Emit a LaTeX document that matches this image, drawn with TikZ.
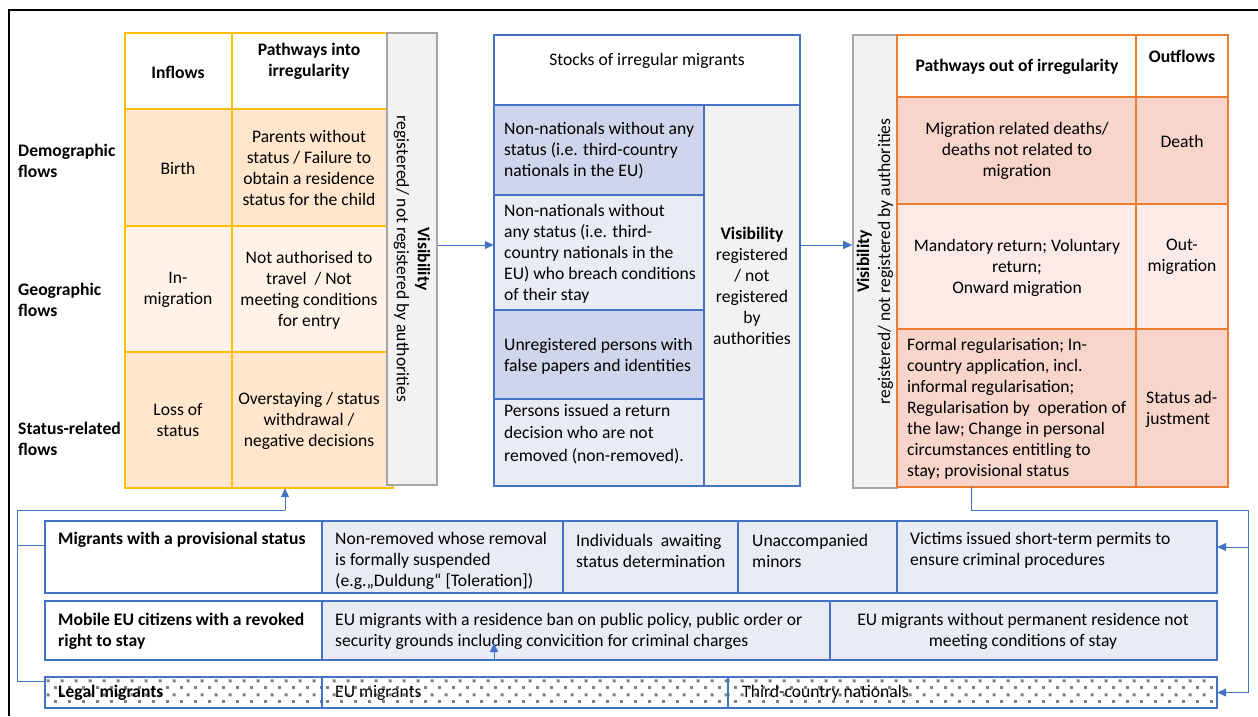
\documentclass[tikz,border=0pt]{standalone}
\usepackage{fontspec}
\setmainfont{Carlito}
\usepackage{xcolor}
\usepackage{tikz}
\usetikzlibrary{arrows.meta}
\usetikzlibrary{patterns}

\definecolor{yline}{HTML}{FFC000}
\definecolor{ylight}{HTML}{FFE6CC}
\definecolor{ypale}{HTML}{FFF3E7}
\definecolor{bline}{HTML}{4472C4}
\definecolor{bdark}{HTML}{CFD5EA}
\definecolor{blight}{HTML}{E9EBF5}
\definecolor{oline}{HTML}{ED7D31}
\definecolor{olight}{HTML}{F8D5CA}
\definecolor{opale}{HTML}{FBEAE7}
\definecolor{vline}{HTML}{A6A6A6}
\definecolor{vfill}{HTML}{F2F2F2}
\definecolor{dotgrey}{HTML}{7F7F7F}

\newcommand{\txtsize}{\fontsize{17.6}{21}\selectfont}

\pgfdeclarepatternformonly{sqdots}{\pgfpointorigin}{\pgfpoint{13.6pt}{13.6pt}}{\pgfpoint{13.6pt}{13.6pt}}{%
  \pgfpathrectangle{\pgfpoint{0pt}{0pt}}{\pgfpoint{3pt}{3pt}}%
  \pgfpathrectangle{\pgfpoint{6.8pt}{6.8pt}}{\pgfpoint{3pt}{3pt}}%
  \pgfusepath{fill}}

\tikzset{
  ycell/.style={draw=yline, line width=1.5pt},
  bcell/.style={draw=bline, line width=1.5pt},
  ocell/.style={draw=oline, line width=1.8pt},
  visbox/.style={draw=vline, fill=vfill, line width=1.6pt, inner sep=0pt},
  frame/.style={inner sep=0pt},
  txt/.style={inner sep=0pt, align=center},
  ltxt/.style={inner sep=0pt, align=left, anchor=west},
  bold/.style={font=\txtsize\bfseries},
  wire/.style={draw=bline, line width=0.8pt},
  arr/.style={draw=bline, line width=0.8pt, -{Triangle[length=9pt,width=8pt]}}
}

\begin{document}
\begin{tikzpicture}[x=1pt, y=-1pt, font=\txtsize]
       \useasboundingbox (0,0) rectangle (1258,716);
        %FRAME
       \draw[line width=2.5pt] (9,716) -- (9,10) -- (1258,10);

        %INFLOWS TABLE
       \filldraw[ycell, fill=white] (125,33) rectangle (232,109);
       \filldraw[ycell, fill=white] (232,33) rectangle (387,109);
       \filldraw[ycell, fill=ylight] (125,109) rectangle (232,226);
       \filldraw[ycell, fill=ylight] (232,109) rectangle (387,226);
       \filldraw[ycell, fill=ypale] (125,226) rectangle (232,352);
       \filldraw[ycell, fill=ypale] (232,226) rectangle (387,352);
       \filldraw[ycell, fill=ylight] (125,352) rectangle (232,488);
       \filldraw[ycell, fill=ylight] (232,352) rectangle (393,488);
       \node[frame, minimum width=262pt, minimum height=455pt] (intable) at (256,260.5) {};
       \node[visbox, minimum width=50pt, minimum height=452pt] (visL) at (412,259) {};
       \node[txt, rotate=-90] (visLtxt) at (visL.center) {\textbf{Visibility}\\registered/ not registered by authorities};

       \node[ltxt, bold] (demo) at (18,161) {Demographic\\flows};
       \node[ltxt, bold] (geo) at (18,300) {Geographic\\flows};
       \node[ltxt, bold] (statrel) at (18,439) {Status-related\\flows};
       \node[txt, bold] (inflows) at (178,72) {Inflows};
       \node[txt, bold] (pathin) at (309,61.5) {Pathways into\\irregularity};
       \node[txt] (birth) at (178,168) {Birth};
       \node[txt] (parents) at (309,168) {Parents without\\status / Failure to\\obtain a residence\\status for the child};
       \node[txt] (inmig) at (178,290) {In-\\migration};
       \node[txt] (notauth) at (309,290) {Not authorised to\\travel~ / Not\\meeting conditions\\for entry};
       \node[txt] (loss) at (178,420) {Loss of\\status};
       \node[txt] (overstay) at (309,421) {Overstaying / status\\withdrawal /\\negative decisions};

        %STOCKS TABLE
       \filldraw[bcell, fill=white] (494,35) rectangle (800,105);
       \filldraw[bcell, fill=bdark] (494,105) rectangle (704,195);
       \filldraw[bcell, fill=blight] (494,195) rectangle (704,310);
       \filldraw[bcell, fill=bdark] (494,310) rectangle (704,399);
       \filldraw[bcell, fill=blight] (494,399) rectangle (704,486);
       \filldraw[bcell, fill=vfill] (704,105) rectangle (800,486);
       \node[frame, minimum width=306pt, minimum height=451pt] (stocks) at (647,260.5) {};

       \node[txt] (stockhead) at (647,61) {Stocks of irregular migrants};
       \node[ltxt] (nostatus) at (504,151) {Non-nationals without any\\status (i.e. third-country\\nationals in the EU)};
       \node[ltxt] (breach) at (504,254) {Non-nationals without\\any status (i.e. third-\\country nationals in the\\EU) who breach conditions\\of their stay};
       \node[ltxt] (unreg) at (504,356) {Unregistered persons with\\false papers and identities};
       \node[ltxt] (nonremoved) at (504,434) {Persons issued a return\\[1.5pt]decision who are not\\[1.5pt]removed (non-removed).};
       \node[txt] (stockvis) at (752,285.5) {\textbf{Visibility}\\registered\\/ not\\registered\\by\\authorities};

        %OUTFLOWS TABLE
       \node[visbox, minimum width=44pt, minimum height=453pt] (visR) at (875,261.5) {};
       \node[txt, rotate=90] (visRtxt) at (visR.center) {\textbf{Visibility}\\registered/ not registered by authorities};
       \filldraw[ocell, fill=white] (897,35) rectangle (1136,97);
       \filldraw[ocell, fill=white] (1136,35) rectangle (1228,97);
       \filldraw[ocell, fill=olight] (897,97) rectangle (1136,204);
       \filldraw[ocell, fill=olight] (1136,97) rectangle (1228,204);
       \filldraw[ocell, fill=opale] (897,204) rectangle (1136,329);
       \filldraw[ocell, fill=opale] (1136,204) rectangle (1228,329);
       \filldraw[ocell, fill=olight] (897,329) rectangle (1136,487);
       \filldraw[ocell, fill=olight] (1136,329) rectangle (1228,487);
       \node[frame, minimum width=331pt, minimum height=452pt] (outtable) at (1062.5,261) {};

       \node[txt, bold] (pathout) at (1017,67) {Pathways out of irregularity};
       \node[txt, bold] (outflows) at (1182,56) {Outflows};
       \node[txt] (deaths) at (1017,151) {Migration related deaths/\\deaths not related to\\migration};
       \node[txt] (death) at (1182,141) {Death};
       \node[txt] (returns) at (1017,268) {Mandatory return; Voluntary\\return;\\Onward migration};
       \node[txt] (outmig) at (1182,257) {Out-\\migration};
       \node[ltxt] (regul) at (907,409) {Formal regularisation; In-\\country application, incl.\\informal regularisation;\\Regularisation by~ operation of\\the law; Change in personal\\circumstances entitling to\\stay; provisional status};
       \node[ltxt] (adjust) at (1146,409.5) {Status ad-\\justment};

        %PROVISIONAL STATUS ROW
       \filldraw[bcell, fill=white] (45,521) rectangle (322,593);
       \filldraw[bcell, fill=blight] (322,521) rectangle (563,593);
       \filldraw[bcell, fill=blight] (563,521) rectangle (738,593);
       \filldraw[bcell, fill=blight] (738,521) rectangle (897,593);
       \filldraw[bcell, fill=blight] (897,521) rectangle (1217,593);
       \node[frame, minimum width=1172pt, minimum height=72pt] (provrow) at (631,557) {};
       \node[ltxt, bold] (provis) at (58,540) {Migrants with a provisional status};
       \node[ltxt] (suspended) at (335,561) {Non-removed whose removal\\is formally suspended\\(e.g.„Duldung“ [Toleration])};
       \node[ltxt] (awaiting) at (576,550.5) {Individuals~ awaiting\\status determination};
       \node[ltxt] (minors) at (752,550.5) {Unaccompanied\\minors};
       \node[ltxt] (victims) at (910,550.5) {Victims issued short-term permits to\\ensure criminal procedures};

        %MOBILE EU ROW
       \filldraw[bcell, fill=white] (45,601) rectangle (322,660);
       \filldraw[bcell, fill=blight] (322,601) rectangle (830,660);
       \filldraw[bcell, fill=blight] (830,601) rectangle (1217,660);
       \node[frame, minimum width=1172pt, minimum height=59pt] (mobrow) at (631,630.5) {};
       \node[ltxt, bold] (mobile) at (58,631.5) {Mobile EU citizens with a revoked\\right to stay};
       \node[ltxt] (euban) at (335,631.5) {EU migrants with a residence ban on public policy, public order or\\security grounds including convicition for criminal charges};
       \node[txt] (eustay) at (1023,631.5) {EU migrants without permanent residence not\\meeting conditions of stay};

        %LEGAL MIGRANTS ROW
       \draw[bcell, pattern=sqdots, pattern color=dotgrey] (45,677) rectangle (322,708);
       \draw[bcell, pattern=sqdots, pattern color=dotgrey] (322,677) rectangle (728,708);
       \draw[bcell, pattern=sqdots, pattern color=dotgrey] (728,677) rectangle (1217,708);
       \node[frame, minimum width=1172pt, minimum height=31pt] (legalrow) at (631,692.5) {};
       \node[ltxt, bold] (legal) at (58,692.5) {Legal migrants};
       \node[ltxt] (eumig) at (335,692.5) {EU migrants};
       \node[ltxt] (tcn) at (742,692.5) {Third-country nationals};

        %ARROWS BETWEEN TABLES
       \coordinate (stin) at ([yshift=14pt]visL.east);
       \coordinate (stout) at ([yshift=15.5pt]stocks.east);
       \draw[arr] (stin) -- (stin -| stocks.west);
       \draw[arr] (stout) -- (stout -| visR.west);

        %LEFT LOOP
       \coordinate (lsplit) at (285,510);
       \coordinate (ltrunk) at (17,510);
       \coordinate (provin) at ([yshift=12pt]provrow.west);
       \coordinate (legalin) at ([yshift=11.5pt]legalrow.west);
       \draw[arr] (lsplit) -- (lsplit |- intable.south);
       \draw[wire] (lsplit) -- (ltrunk) -- (ltrunk |- legalin) -- (legalin);
       \draw[wire] (ltrunk |- provin) -- (provin);

        %RIGHT LOOP
       \coordinate (rsplit) at (971,510);
       \coordinate (rtrunk) at (1248,510);
       \coordinate (provout) at ([yshift=10pt]provrow.east);
       \draw[wire] (rsplit |- outtable.south) -- (rsplit) -- (rtrunk) -- (rtrunk |- legalrow.east);
       \draw[arr] (rtrunk |- legalrow.east) -- (legalrow.east);
       \draw[arr] (rtrunk |- provout) -- (provout);

        %SMALL ARROW IN EU ROW
       \coordinate (euup) at (494,643);
       \draw[arr] (euup |- mobrow.south) -- (euup);
\end{tikzpicture}
\end{document}
